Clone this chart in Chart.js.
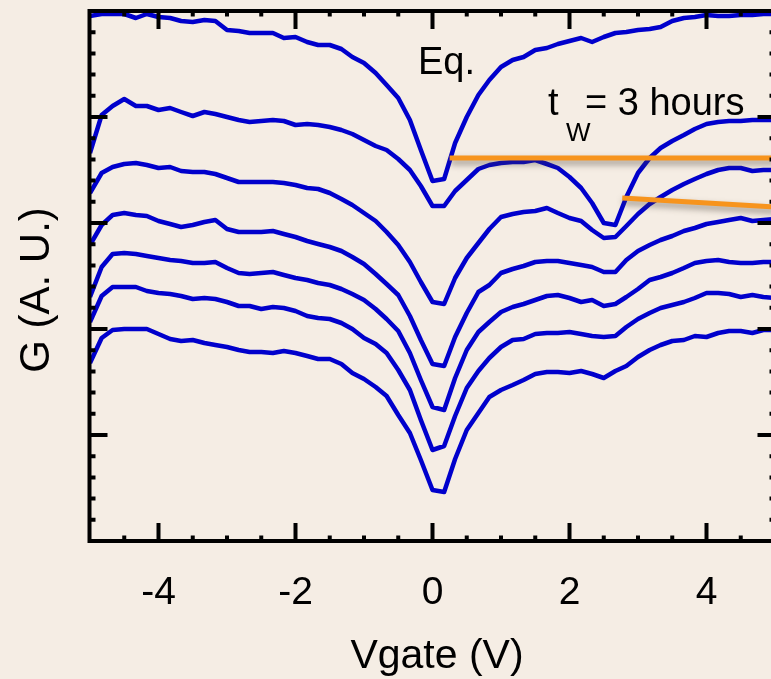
<!DOCTYPE html>
<html>
<head>
<meta charset="utf-8">
<script src="https://cdn.jsdelivr.net/npm/chart.js@4.4.0/dist/chart.umd.min.js"></script>
<style>
  html, body { margin: 0; padding: 0; overflow: hidden; background: #f5ede4; }
  canvas { display: block; }
</style>
</head>
<body>
<canvas id="chart" width="780" height="679"></canvas>
<script>
// gate voltage sweep (V)
const vgate = [-5, -4.83, -4.67, -4.5, -4.33, -4.17, -4, -3.83, -3.67, -3.5, -3.33, -3.17,
  -3, -2.83, -2.67, -2.5, -2.33, -2.17, -2, -1.83, -1.67, -1.5, -1.33, -1.17,
  -1, -0.83, -0.67, -0.5, -0.33, -0.17, 0, 0.17, 0.33, 0.5, 0.67, 0.83,
  1, 1.17, 1.33, 1.5, 1.67, 1.83, 2, 2.17, 2.33, 2.5, 2.67, 2.83,
  3, 3.17, 3.33, 3.5, 3.67, 3.83, 4, 4.17, 4.33, 4.5, 4.67, 4.83, 5];

// conductance traces, arbitrary units, offset from each other (top to bottom)
const gEq = [525, 527, 527, 527, 523, 527, 524, 523, 520, 519, 521, 520,
  511, 510, 508, 508, 508, 503, 504, 499, 496, 496, 492, 484,
  478, 468, 456, 443, 421, 391, 360, 362, 398, 424, 446, 461,
  474, 481, 484, 491, 493, 497, 500, 503, 499, 504, 508, 509,
  511, 512, 514, 520, 523, 524, 526, 525, 525, 526, 526, 527, 527];
const g2 = [388, 426, 435, 442, 435, 435, 431, 433, 429, 425, 429, 427,
  424, 421, 419, 420, 421, 420, 416, 417, 416, 414, 411, 407,
  401, 395, 391, 382, 371, 355, 335, 335, 350, 361, 372, 376,
  378, 379, 379, 381, 377, 373, 364, 353, 338, 318, 316, 344,
  368, 383, 393, 400, 406, 412, 417, 419, 420, 420, 421, 421, 421];
const g3 = [348, 368, 374, 377, 378, 376, 373, 374, 370, 369, 369, 367,
  363, 359, 359, 359, 359, 358, 356, 353, 352, 348, 342, 336,
  328, 320, 309, 296, 279, 259, 239, 237, 263, 283, 298, 312,
  324, 327, 329, 330, 333, 328, 323, 320, 311, 303, 304, 315,
  327, 337, 344, 351, 357, 362, 367, 371, 373, 373, 370, 371, 371];
const g4 = [296, 316, 326, 328, 326, 325, 320, 317, 314, 316, 319, 321,
  312, 309, 309, 309, 310, 307, 304, 300, 297, 294, 290, 284,
  277, 267, 257, 246, 225, 201, 177, 175, 204, 228, 249, 256,
  268, 272, 275, 279, 280, 280, 278, 276, 274, 269, 269, 281,
  290, 296, 301, 305, 310, 313, 317, 319, 321, 323, 320, 321, 322];
const g5 = [244, 274, 287, 288, 287, 285, 283, 281, 280, 278, 278, 279,
  273, 268, 267, 268, 269, 266, 263, 261, 258, 256, 252, 247,
  241, 232, 222, 210, 188, 161, 134, 131, 163, 191, 209, 219,
  229, 234, 237, 241, 245, 246, 243, 239, 241, 235, 237, 244,
  252, 261, 264, 268, 273, 278, 280, 281, 279, 278, 278, 279, 279];
const g6 = [219, 245, 254, 254, 254, 250, 248, 247, 245, 242, 243, 242,
  239, 235, 235, 232, 234, 233, 230, 225, 223, 222, 218, 212,
  203, 197, 188, 171, 151, 121, 91, 95, 125, 153, 170, 183,
  194, 201, 202, 207, 208, 208, 209, 207, 205, 204, 205, 214,
  222, 228, 233, 236, 239, 243, 248, 248, 247, 244, 246, 244, 243];
const g7 = [178, 203, 211, 212, 212, 212, 207, 202, 200, 201, 198, 196,
  194, 191, 189, 189, 188, 190, 188, 185, 182, 182, 177, 168,
  162, 154, 145, 126, 108, 81, 51, 49, 82, 111, 128, 144,
  151, 156, 161, 167, 169, 169, 168, 170, 167, 163, 170, 175,
  184, 191, 196, 200, 201, 205, 204, 208, 210, 210, 208, 211, 211];

// orange pointer lines (endpoints in data units)
const pointer1X = [0.25, 5];
const pointer1Y = [383, 383];
const pointer2X = [2.77, 5];
const pointer2Y = [343, 334];

const xTickLabels = [-4, -2, 0, 2, 4];
const yMajorStep = 106;

const BLUE = '#0000cc';
const ORANGE = '#f7941d';
const FONT = '"Liberation Sans", Arial, sans-serif';

const pts = (xs, ys) => xs.map((x, i) => ({ x: x, y: ys[i] }));

const traces = [gEq, g2, g3, g4, g5, g6, g7].map((ys, i) => ({
  label: 'trace ' + (i + 1),
  data: pts(vgate, ys),
  borderColor: BLUE,
  borderWidth: 4.5,
  pointRadius: 0,
  tension: 0,
  order: 1
}));

const pointers = [[pointer1X, pointer1Y], [pointer2X, pointer2Y]].map(([xs, ys]) => ({
  data: pts(xs, ys),
  borderColor: ORANGE,
  borderWidth: 5,
  pointRadius: 0,
  order: 0,
  shadow: true
}));

const frame = {
  id: 'frame',
  beforeDraw(chart) {
    const c = chart.ctx;
    c.save();
    c.fillStyle = '#f5ede4';
    c.fillRect(0, 0, chart.width, chart.height);
    c.restore();
  },
  beforeDatasetDraw(chart, args) {
    if (chart.data.datasets[args.index].shadow) {
      const c = chart.ctx;
      c.save();
      c.shadowColor = 'rgba(70,60,50,0.5)';
      c.shadowBlur = 6;
      c.shadowOffsetX = 1;
      c.shadowOffsetY = 4;
    }
  },
  afterDatasetDraw(chart, args) {
    if (chart.data.datasets[args.index].shadow) chart.ctx.restore();
  },
  afterDatasetsDraw(chart) {
    const c = chart.ctx;
    const a = chart.chartArea;
    const xs = chart.scales.x, ys = chart.scales.y;
    c.save();
    c.strokeStyle = '#000';
    c.lineCap = 'butt';

    // ticks pointing inward on all four sides
    c.lineWidth = 4;
    c.beginPath();
    for (let v = -4.5; v <= 4.5; v += 0.5) {
      const px = xs.getPixelForValue(v);
      const len = (Math.abs(v) % 2 === 0) ? 18 : 5.5;
      c.moveTo(px, a.bottom); c.lineTo(px, a.bottom - len);
      c.moveTo(px, a.top); c.lineTo(px, a.top + len);
    }
    for (let i = 1; i < 25; i++) {
      const v = i * yMajorStep / 5;
      const py = ys.getPixelForValue(v);
      const len = (i % 5 === 0) ? 17.5 : 5.5;
      c.moveTo(a.left, py); c.lineTo(a.left + len, py);
      c.moveTo(a.right, py); c.lineTo(a.right - len, py);
    }
    c.stroke();

    // box
    c.lineWidth = 4;
    c.lineJoin = 'miter';
    c.strokeRect(a.left - 0.5, a.top, a.right - a.left + 0.5, a.bottom - a.top);

    // tick labels
    c.fillStyle = '#000';
    c.font = '39px ' + FONT;
    c.textAlign = 'center';
    c.textBaseline = 'alphabetic';
    xTickLabels.forEach(v => {
      c.fillText(String(v), xs.getPixelForValue(v), 604);
    });

    // axis titles
    c.font = '41px ' + FONT;
    c.fillText('Vgate (V)', 437, 668);
    c.save();
    c.translate(49, 290);
    c.rotate(-Math.PI / 2);
    c.font = '42px ' + FONT;
    c.fillText('G (A. U.)', 0, 0);
    c.restore();

    // curve annotations
    c.textAlign = 'left';
    c.font = '38px ' + FONT;
    c.fillText('Eq.', 418, 74);
    c.fillText('t', 548, 115);
    c.fillText('= 3 hours', 585, 115);
    c.font = '26px ' + FONT;
    c.fillText('W', 566, 141);
    c.restore();
  }
};

new Chart(document.getElementById('chart'), {
  type: 'line',
  data: { datasets: pointers.concat(traces) },
  options: {
    responsive: false,
    animation: false,
    devicePixelRatio: 1,
    layout: { padding: { left: 90, top: 11, right: 5, bottom: 138 } },
    plugins: { legend: { display: false }, tooltip: { enabled: false } },
    scales: {
      x: { type: 'linear', min: -5, max: 5, display: false },
      y: { type: 'linear', min: 0, max: 530, display: false }
    },
    elements: { line: { borderJoinStyle: 'round', borderCapStyle: 'butt' } }
  },
  plugins: [frame]
});
</script>
</body>
</html>
